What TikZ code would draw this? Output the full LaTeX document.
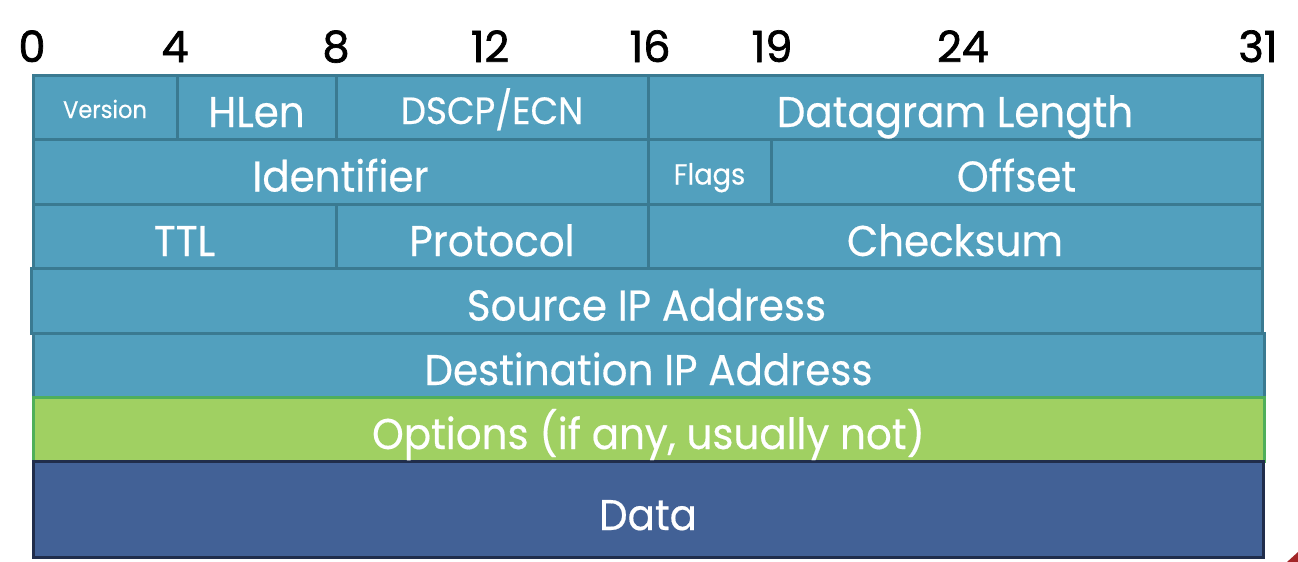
\documentclass[tikz,border=0pt]{standalone}
\usepackage{fontspec}
\setmainfont{Poppins}[FakeStretch=0.94, FakeBold=0.4]
\newfontfamily\bitfont{Poppins}[FakeBold=1.6]
\usetikzlibrary{calc}

\definecolor{hdrfill}{HTML}{52A0BE}
\definecolor{hdrline}{HTML}{3A7A91}
\definecolor{optfill}{HTML}{A0D062}
\definecolor{optline}{HTML}{4FAF5A}
\definecolor{datafill}{HTML}{426196}
\definecolor{dataline}{HTML}{202D4B}
\definecolor{cornerred}{HTML}{A32628}

% one header field: name, x1, y1, x2, y2, style
\newcommand\fieldbox[6]{%
  \node[#6, minimum width={(#4)-(#2)}, minimum height={(#5)-(#3)}]
    (#1) at ({((#2)+(#4))/2},{((#3)+(#5))/2}) {};}

\tikzset{
  hdr/.style={rectangle, inner sep=0pt, outer sep=0pt, fill=hdrfill, draw=hdrline, line width=3pt},
  opt/.style={rectangle, inner sep=0pt, outer sep=0pt, fill=optfill, draw=optline, line width=3pt},
  payload/.style={rectangle, inner sep=0pt, outer sep=0pt, fill=datafill, draw=dataline, line width=3pt},
  lbl/.style={anchor=base, inner sep=0pt, text=white, font=\fontsize{43}{43}\selectfont},
  smalllbl/.style={lbl, font=\fontsize{24}{24}\selectfont},
  midlbl/.style={lbl, font=\fontsize{29}{29}\selectfont},
  thinlbl/.style={lbl, font=\fontsize{38}{38}\selectfont},
  bit/.style={anchor=base, inner sep=0pt, text=black, font=\bitfont\fontsize{43}{43}\selectfont},
}

\begin{document}
\begin{tikzpicture}[x=1pt, y=-1pt]
\useasboundingbox (0,0) rectangle (1298,562);

% header rows
\fieldbox{version}{33}{75}{177}{139}{hdr}
\fieldbox{hlen}{177}{75}{336}{139}{hdr}
\fieldbox{dscp}{336}{75}{648}{139}{hdr}
\fieldbox{dglen}{648}{75}{1262}{139}{hdr}

\fieldbox{ident}{33}{139}{648}{204}{hdr}
\fieldbox{flags}{648}{139}{771}{204}{hdr}
\fieldbox{offset}{771}{139}{1262}{204}{hdr}

\fieldbox{ttl}{33}{204}{336}{268}{hdr}
\fieldbox{proto}{336}{204}{648}{268}{hdr}
\fieldbox{cksum}{648}{204}{1262}{268}{hdr}

\fieldbox{srcip}{31}{268}{1262}{333}{hdr}
\fieldbox{dstip}{33}{333}{1264}{397}{hdr}

\fieldbox{options}{33}{397}{1264}{461}{opt}
\fieldbox{data}{33}{461}{1263}{557}{payload}

% field names
\node[smalllbl] (t-version) at ($(version.center)+(0,11)$) {Version};
\node[lbl] (t-hlen) at ($(hlen.center)+(0,20)$) {HLen};
\node[thinlbl] (t-dscp) at ($(dscp.center)+(0,17)$) {DSCP/ECN};
\node[lbl] (t-dglen) at ($(dglen.center)+(0,20)$) {Datagram Length};
\node[lbl] (t-ident) at ($(ident.center)+(0,20)$) {Identifier};
\node[midlbl] (t-flags) at ($(flags.center)+(0,13)$) {Flags};
\node[lbl] (t-offset) at ($(offset.center)+(0,20)$) {Offset};
\node[lbl] (t-ttl) at ($(ttl.center)+(0,20)$) {TTL};
\node[lbl] (t-proto) at ($(proto.center)+(0,20)$) {Protocol};
\node[lbl] (t-cksum) at ($(cksum.center)+(0,20)$) {Checksum};
\node[lbl] (t-srcip) at ($(srcip.center)+(0,20)$) {Source IP Address};
\node[lbl] (t-dstip) at ($(dstip.center)+(0,20)$) {Destination IP Address};
\node[lbl] (t-options) at ($(options.center)+(0,20)$) {Options (if any, usually not)};
\node[lbl] (t-data) at ($(data.center)+(0,21)$) {Data};

% bit offsets
\node[bit] (b0) at (32,62) {0};
\node[bit] (b4) at (175,62) {4};
\node[bit] (b8) at (336,62) {8};
\node[bit] (b12) at (490,62) {12};
\node[bit] (b16) at (650,62) {16};
\node[bit] (b19) at (772,62) {19};
\node[bit] (b24) at (963,62) {24};
\node[bit] (b31) at (1258,62) {31};

% red wedge in the lower right corner
\fill[cornerred] (1287,562) -- (1298,552) -- (1298,562) -- cycle;
\end{tikzpicture}
\end{document}
